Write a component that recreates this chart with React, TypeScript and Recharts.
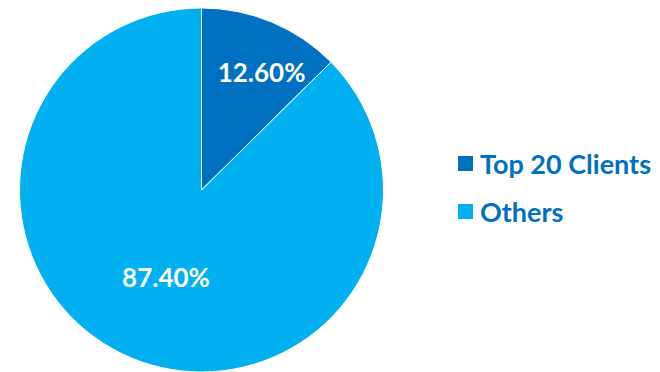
import { PieChart, Pie, Cell, Legend } from "recharts";

const categories = ["Top 20 Clients", "Others"];
const shares = [12.6, 87.4];
const colors = ["#0070C0", "#00B0F0"];

const data = categories.map((name, i) => ({ name, value: shares[i] }));

const RADIAN = Math.PI / 180;
const labelRadius = [0.7, 0.52];

function renderLabel(props: any) {
  const { cx, cy, midAngle, outerRadius, index, value } = props;
  const r = outerRadius * labelRadius[index];
  const x = cx + r * Math.cos(-midAngle * RADIAN) + (index === 0 ? 11 : 1);
  const y = cy + r * Math.sin(-midAngle * RADIAN);
  return (
    <text
      x={x}
      y={y}
      fill="#fff"
      textAnchor="middle"
      dominantBaseline="central"
      fontSize={26}
      fontWeight={700}
      fontFamily="Lato, sans-serif"
    >
      {value.toFixed(2)}%
    </text>
  );
}

function LegendList() {
  return (
    <div style={{ fontFamily: "Lato, sans-serif" }}>
      {data.map((d, i) => (
        <div
          key={d.name}
          style={{
            display: "flex",
            alignItems: "center",
            height: 48,
            color: "#0070C0",
            fontWeight: 700,
            fontSize: 27,
          }}
        >
          <span
            style={{
              width: 15,
              height: 15,
              background: colors[i],
              marginRight: 7,
              display: "inline-block",
            }}
          />
          {d.name}
        </div>
      ))}
    </div>
  );
}

export default function App() {
  return (
    <div style={{ position: "absolute", left: 0, top: 0, width: 660, height: 372, background: "#fff" }}>
      <PieChart width={660} height={372} margin={{ top: 0, right: 0, bottom: 0, left: 0 }}>
        <Pie
          data={data}
          dataKey="value"
          nameKey="name"
          cx={201.5}
          cy={190}
          outerRadius={182}
          startAngle={90}
          endAngle={-270}
          stroke="#fff"
          strokeWidth={1}
          label={renderLabel}
          labelLine={false}
          isAnimationActive={false}
        >
          {data.map((d, i) => (
            <Cell key={d.name} fill={colors[i]} />
          ))}
        </Pie>
        <Legend
          layout="vertical"
          content={<LegendList />}
          wrapperStyle={{ position: "absolute", left: 458, top: 139, width: 200 }}
        />
      </PieChart>
    </div>
  );
}
